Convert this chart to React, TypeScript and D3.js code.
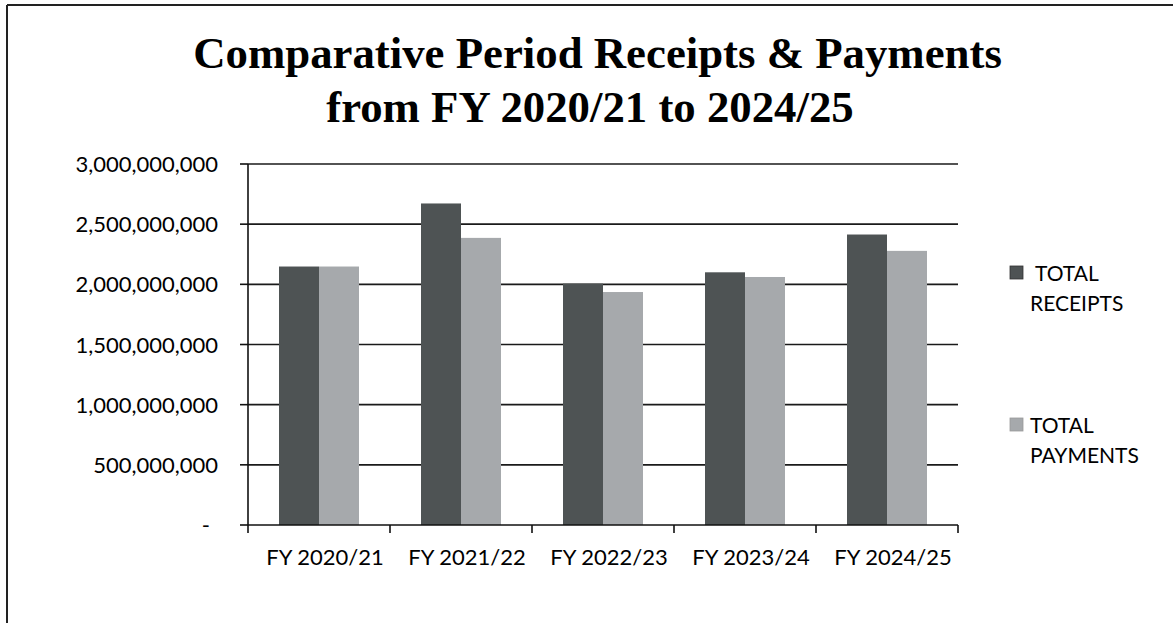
import React from "react";
import * as d3 from "d3";

const categories = ["FY 2020/21", "FY 2021/22", "FY 2022/23", "FY 2023/24", "FY 2024/25"];
const seriesNames = ["TOTAL RECEIPTS", "TOTAL PAYMENTS"];
const receipts = [2148000000, 2672000000, 2006000000, 2100000000, 2414000000];
const payments = [2148000000, 2386000000, 1936000000, 2061000000, 2278000000];
const yTicks = [0, 500000000, 1000000000, 1500000000, 2000000000, 2500000000, 3000000000];
const titleLines = ["Comparative Period Receipts & Payments", "from FY 2020/21 to 2024/25"];
const legendLines = [["TOTAL", "RECEIPTS"], ["TOTAL", "PAYMENTS"]];

const W = 1173;
const H = 623;
const plotLeft = 248;
const plotRight = 958;
const plotTop = 164;
const plotBottom = 525;
const colors = ["#4e5354", "#a6a9ac"];
const sansFont = "Lato, 'Open Sans', sans-serif";

export default function App() {
  const y = d3.scaleLinear().domain([0, 3000000000]).range([plotBottom, plotTop]);
  const x = d3.scaleBand<string>().domain(categories).range([plotLeft, plotRight]).padding(0);
  const groupW = 80;
  const inner = d3.scaleBand<string>().domain(seriesNames).range([0, groupW]).padding(0);
  const fmt = (v: number) => (v === 0 ? "-" : d3.format(",")(v));
  const data = [receipts, payments];
  const titlePos = [
    { x: 597.5, y: 68 },
    { x: 590, y: 122 },
  ];

  return (
    <svg width={W} height={H} style={{ position: "absolute", left: 0, top: 0, background: "#fff" }}>
      <rect x={0} y={0} width={W} height={H} fill="#ffffff" />
      {/* outer border */}
      <line x1={7} y1={5} x2={W} y2={5} stroke="#222" strokeWidth={2} />
      <line x1={7} y1={5} x2={7} y2={H} stroke="#222" strokeWidth={2} />

      {/* title */}
      {titleLines.map((t, i) => (
        <text
          key={i}
          x={titlePos[i].x}
          y={titlePos[i].y}
          textAnchor="middle"
          fontFamily="'Liberation Serif', 'Times New Roman', serif"
          fontWeight="bold"
          fontSize={44.8}
          fill="#000"
        >
          {t}
        </text>
      ))}

      {/* gridlines */}
      {yTicks.filter((t) => t > 0).map((t) => (
        <line key={t} x1={plotLeft} x2={plotRight} y1={y(t)} y2={y(t)} stroke="#1a1a1a" strokeWidth={1.6} />
      ))}

      {/* bars */}
      {categories.map((c, ci) => {
        const gx = (x(c) as number) + (x.bandwidth() - groupW) / 2;
        return seriesNames.map((s, si) => (
          <rect
            key={c + s}
            x={gx + (inner(s) as number)}
            y={y(data[si][ci])}
            width={inner.bandwidth()}
            height={y(0) - y(data[si][ci])}
            fill={colors[si]}
          />
        ));
      })}

      {/* y axis */}
      <line x1={plotLeft} x2={plotLeft} y1={plotTop} y2={plotBottom} stroke="#111" strokeWidth={1.6} />
      {yTicks.map((t) => (
        <g key={t}>
          <line x1={plotLeft - 8} x2={plotLeft} y1={y(t)} y2={y(t)} stroke="#111" strokeWidth={1.6} />
          <text
            x={t === 0 ? 210 : 218}
            y={y(t) + 8}
            textAnchor="end"
            fontFamily={sansFont}
            fontSize={22}
            fill="#000"
          >
            {fmt(t)}
          </text>
        </g>
      ))}

      {/* x axis */}
      <line x1={plotLeft} x2={plotRight} y1={plotBottom} y2={plotBottom} stroke="#111" strokeWidth={1.6} />
      {[...categories.map((c) => x(c) as number), plotRight].map((px, i) => (
        <line key={i} x1={px} x2={px} y1={plotBottom} y2={plotBottom + 8} stroke="#111" strokeWidth={1.6} />
      ))}
      {categories.map((c) => (
        <text
          key={c}
          x={(x(c) as number) + x.bandwidth() / 2 + 6}
          y={565}
          textAnchor="middle"
          fontFamily={sansFont}
          fontSize={22}
          fill="#000"
        >
          {c}
        </text>
      ))}

      {/* legend */}
      {legendLines.map((lines, i) => {
        const top = 266 + i * 152;
        return (
          <g key={i}>
            <rect x={1010} y={top} width={13} height={13} fill={colors[i]} stroke={i === 0 ? "#333" : "#999"} strokeWidth={0.8} />
            {lines.map((l, j) => (
              <text
                key={j}
                x={j === 0 && i === 0 ? 1035 : 1030}
                y={top + 15 + j * 30}
                fontFamily={sansFont}
                fontSize={21}
                fill="#000"
              >
                {l}
              </text>
            ))}
          </g>
        );
      })}
    </svg>
  );
}
